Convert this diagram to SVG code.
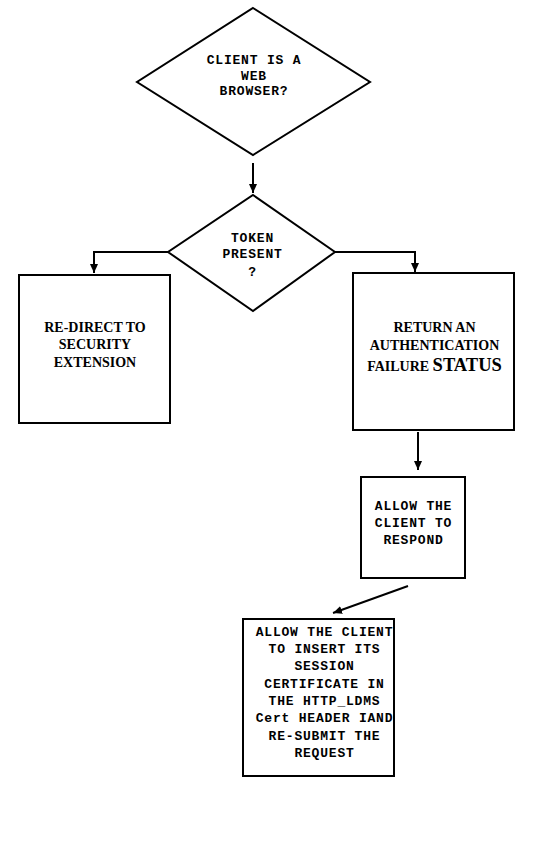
<svg xmlns="http://www.w3.org/2000/svg" width="551" height="850" viewBox="0 0 551 850">
<style>
.shape{fill:#fff;stroke:#000;stroke-width:2}
.conn{fill:none;stroke:#000;stroke-width:2}
.mono{font-family:"Liberation Mono","Courier New",monospace;font-weight:bold;font-size:13px;letter-spacing:0.8px;text-anchor:middle;fill:#000}
.serif{font-family:"Liberation Serif","Times New Roman",serif;font-weight:bold;font-size:14px;text-anchor:middle;fill:#000}
</style>
<defs>
<marker id="arr" markerUnits="userSpaceOnUse" markerWidth="9" markerHeight="8" refX="9" refY="4" orient="auto">
<path d="M0,0 L9,4 L0,8 z" fill="#000"/>
</marker>
</defs>
<rect width="551" height="850" fill="#fff"/>
<g id="connectors">
<path class="conn" d="M253,163 L253,193" marker-end="url(#arr)"/>
<path class="conn" d="M168,252 L94,252 L94,273" marker-end="url(#arr)"/>
<path class="conn" d="M335,252 L415,252 L415,272" marker-end="url(#arr)"/>
<path class="conn" d="M418,432 L418,470" marker-end="url(#arr)"/>
<path class="conn" d="M408,586 L333,613" marker-end="url(#arr)"/>
</g>
<g id="node-browser">
<polygon class="shape" points="253,8 370,82 253,155 137,82"/>
<text class="mono" x="254" y="64">CLIENT IS A</text>
<text class="mono" x="254" y="79.5">WEB</text>
<text class="mono" x="254" y="94.5">BROWSER?</text>
</g>
<g id="node-token">
<polygon class="shape" points="253,195 335,252 253,311 168,252"/>
<text class="mono" x="252.5" y="242">TOKEN</text>
<text class="mono" x="252.5" y="257.5">PRESENT</text>
<text class="mono" x="252.5" y="275.5">?</text>
</g>
<g id="node-redirect">
<rect class="shape" x="19" y="275" width="151" height="148"/>
<text class="serif" x="95" y="332">RE-DIRECT TO</text>
<text class="serif" x="95" y="349">SECURITY</text>
<text class="serif" x="95" y="367">EXTENSION</text>
</g>
<g id="node-failure">
<rect class="shape" x="353" y="273" width="161" height="157"/>
<text class="serif" x="434.5" y="332">RETURN AN</text>
<text class="serif" x="434.5" y="350">AUTHENTICATION</text>
<text class="serif" x="434.5" y="371">FAILURE <tspan font-size="18.5px">STATUS</tspan></text>
</g>
<g id="node-respond">
<rect class="shape" x="361" y="477" width="104" height="101"/>
<text class="mono" x="413.5" y="509.5">ALLOW THE</text>
<text class="mono" x="413.5" y="527">CLIENT TO</text>
<text class="mono" x="413.5" y="544">RESPOND</text>
</g>
<g id="node-resubmit">
<rect class="shape" x="243" y="619" width="151" height="157"/>
<text class="mono" x="324.5" y="636">ALLOW THE CLIENT</text>
<text class="mono" x="324.5" y="653">TO INSERT ITS</text>
<text class="mono" x="324.5" y="670.3">SESSION</text>
<text class="mono" x="324.5" y="687.6">CERTIFICATE IN</text>
<text class="mono" x="324.5" y="704.9">THE HTTP_LDMS</text>
<text class="mono" x="324.5" y="722.2">Cert HEADER IAND</text>
<text class="mono" x="324.5" y="739.5">RE-SUBMIT THE</text>
<text class="mono" x="324.5" y="756.8">REQUEST</text>
</g>
</svg>
